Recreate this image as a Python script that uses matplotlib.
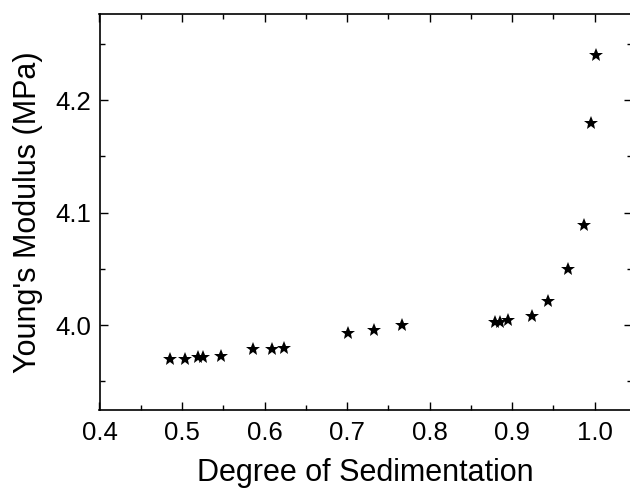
import matplotlib
matplotlib.use("Agg")
import matplotlib.pyplot as plt
from matplotlib.ticker import MultipleLocator

plt.rcParams['font.family'] = ['Liberation Sans', 'DejaVu Sans']

sedimentation = [0.485, 0.503, 0.519, 0.525, 0.547, 0.586, 0.609, 0.6235,
                 0.701, 0.733, 0.766, 0.879, 0.885, 0.895, 0.924, 0.943,
                 0.967, 0.987, 0.995, 1.001]
modulus = [3.970, 3.970, 3.9715, 3.972, 3.9725, 3.979, 3.979, 3.980,
           3.993, 3.996, 4.000, 4.0026, 4.003, 4.0044, 4.008, 4.021,
           4.050, 4.089, 4.180, 4.240]

x_ticks = [0.4, 0.5, 0.6, 0.7, 0.8, 0.9, 1.0]
y_ticks = [4.0, 4.1, 4.2]

fig = plt.figure(figsize=(6.3, 4.91), dpi=100)
ax = fig.add_axes([99.5 / 630, (491 - 410) / 491, (631.5 - 99.5) / 630, (410 - 13.5) / 491])

ax.plot(sedimentation, modulus, linestyle='none', marker='*', color='black',
        markersize=10, markeredgewidth=0)

ax.set_xlim(0.4, 1.0445)
ax.set_ylim(3.9245, 4.2770)
ax.set_xticks(x_ticks)
ax.set_yticks(y_ticks)
ax.xaxis.set_minor_locator(MultipleLocator(0.05))
ax.yaxis.set_minor_locator(MultipleLocator(0.05))
ax.set_xticklabels([f"{v:.1f}" for v in x_ticks])
ax.set_yticklabels([f"{v:.1f}" for v in y_ticks])

ax.tick_params(which='both', direction='in', top=True, right=True,
               labelsize=18.5, width=1.0)
ax.tick_params(axis='x', pad=8)
ax.tick_params(axis='y', pad=6)
ax.tick_params(which='major', length=5.5)
ax.tick_params(which='minor', length=3.5)
for s in ax.spines.values():
    s.set_linewidth(1.2)

ax.set_xlabel("Degree of Sedimentation", fontsize=22, labelpad=9)
ax.set_ylabel("Young's Modulus (MPa)", fontsize=22, labelpad=9)

fig.savefig("out.png", dpi=100)
